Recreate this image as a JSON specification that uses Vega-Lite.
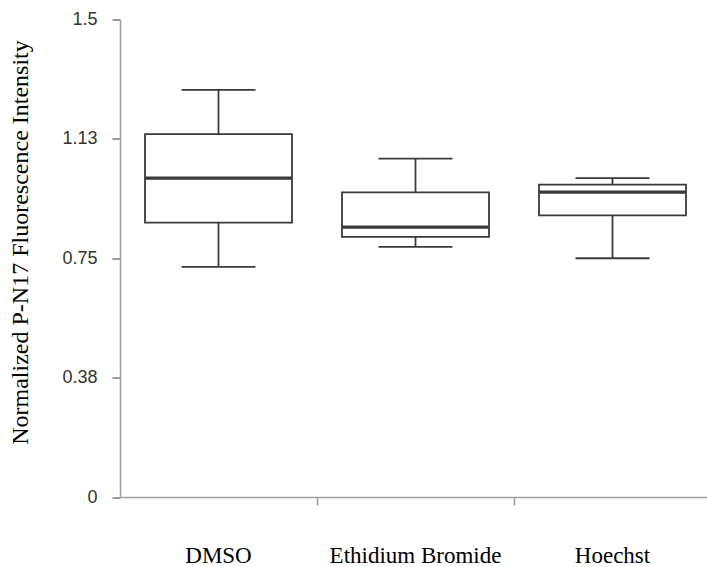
{
  "$schema": "https://vega.github.io/schema/vega-lite/v6.json",
  "autosize": "none",
  "padding": {"left": 120, "top": 19.5, "right": 0, "bottom": 70},
  "width": 591,
  "height": 477.5,
  "background": "white",
  "config": {
    "view": {"stroke": null},
    "axis": {"ticks": true, "tickColor": "#999999", "tickWidth": 1.5, "tickSize": 8, "tickOpacity": 1, "domainColor": "#a0a0a0", "domainWidth": 1.5, "grid": false},
    "axisX": {
      "labelFont": "Liberation Serif",
      "labelFontSize": 23,
      "labelColor": "#000000",
      "labelPadding": 39,
      "labelBaseline": "top",
      "labelAngle": 0
    },
    "axisY": {
      "labelFont": "Liberation Sans",
      "labelFontSize": 18,
      "labelColor": "#333333",
      "labelPadding": 15,
      "titleFont": "Liberation Serif",
      "titleFontSize": 24,
      "titleFontWeight": "normal",
      "titleColor": "#000000",
      "titleX": -88,
      "titleY": 222.5,
      "titleAngle": -90,
      "titleBaseline": "bottom",
      "titleAlign": "center"
    }
  },
  "data": {
    "values": [
      {"group": "DMSO", "min": 0.723, "q1": 0.862, "median": 1.002, "q3": 1.140, "max": 1.279},
      {"group": "Ethidium Bromide", "min": 0.786, "q1": 0.817, "median": 0.848, "q3": 0.957, "max": 1.063},
      {"group": "Hoechst", "min": 0.750, "q1": 0.885, "median": 0.958, "q3": 0.981, "max": 1.002}
    ]
  },
  "encoding": {
    "x": {
      "field": "group",
      "type": "nominal",
      "sort": ["DMSO", "Ethidium Bromide", "Hoechst"],
      "scale": {"paddingInner": 0, "paddingOuter": 0},
      "axis": {
        "title": null,
        "bandPosition": 1,
        "tickExtra": false,
        "encode": {
          "labels": {
            "update": {
              "font": {"value": "Liberation Serif"},
              "dx": {"signal": "datum.value === 'DMSO' ? -11 : datum.value === 'Hoechst' ? 10 : 18"}
            }
          }
        }
      }
    }
  },
  "layer": [
    {
      "mark": {"type": "rule", "color": "#3a3a3a", "strokeWidth": 1.8},
      "encoding": {
        "y": {
          "field": "min",
          "type": "quantitative",
          "scale": {"domain": [0, 1.5], "nice": false, "zero": false},
          "axis": {
            "title": "Normalized P-N17 Fluorescence Intensity",
            "values": [0, 0.375, 0.75, 1.125, 1.5],
            "labelExpr": "datum.value == 0 ? '0' : datum.value == 0.375 ? '0.38' : datum.value == 0.75 ? '0.75' : datum.value == 1.125 ? '1.13' : '1.5'",
            "ticks": true,
            "tickSize": 8,
            "tickWidth": 2,
            "tickColor": "#999999",
            "tickOpacity": 1,
            "tickRound": true
          }
        },
        "y2": {"field": "max"}
      }
    },
    {
      "mark": {"type": "bar", "fill": "white", "stroke": "#3a3a3a", "strokeWidth": 1.8, "width": 147},
      "encoding": {
        "y": {"field": "q1", "type": "quantitative"},
        "y2": {"field": "q3"}
      }
    },
    {
      "mark": {"type": "tick", "color": "#3a3a3a", "opacity": 1, "thickness": 3.2, "size": 147, "orient": "horizontal"},
      "encoding": {
        "y": {"field": "median", "type": "quantitative"}
      }
    },
    {
      "mark": {"type": "tick", "color": "#3a3a3a", "opacity": 1, "thickness": 1.8, "size": 74, "orient": "horizontal"},
      "encoding": {
        "y": {"field": "max", "type": "quantitative"}
      }
    },
    {
      "mark": {"type": "tick", "color": "#3a3a3a", "opacity": 1, "thickness": 1.8, "size": 74, "orient": "horizontal"},
      "encoding": {
        "y": {"field": "min", "type": "quantitative"}
      }
    }
  ]
}
